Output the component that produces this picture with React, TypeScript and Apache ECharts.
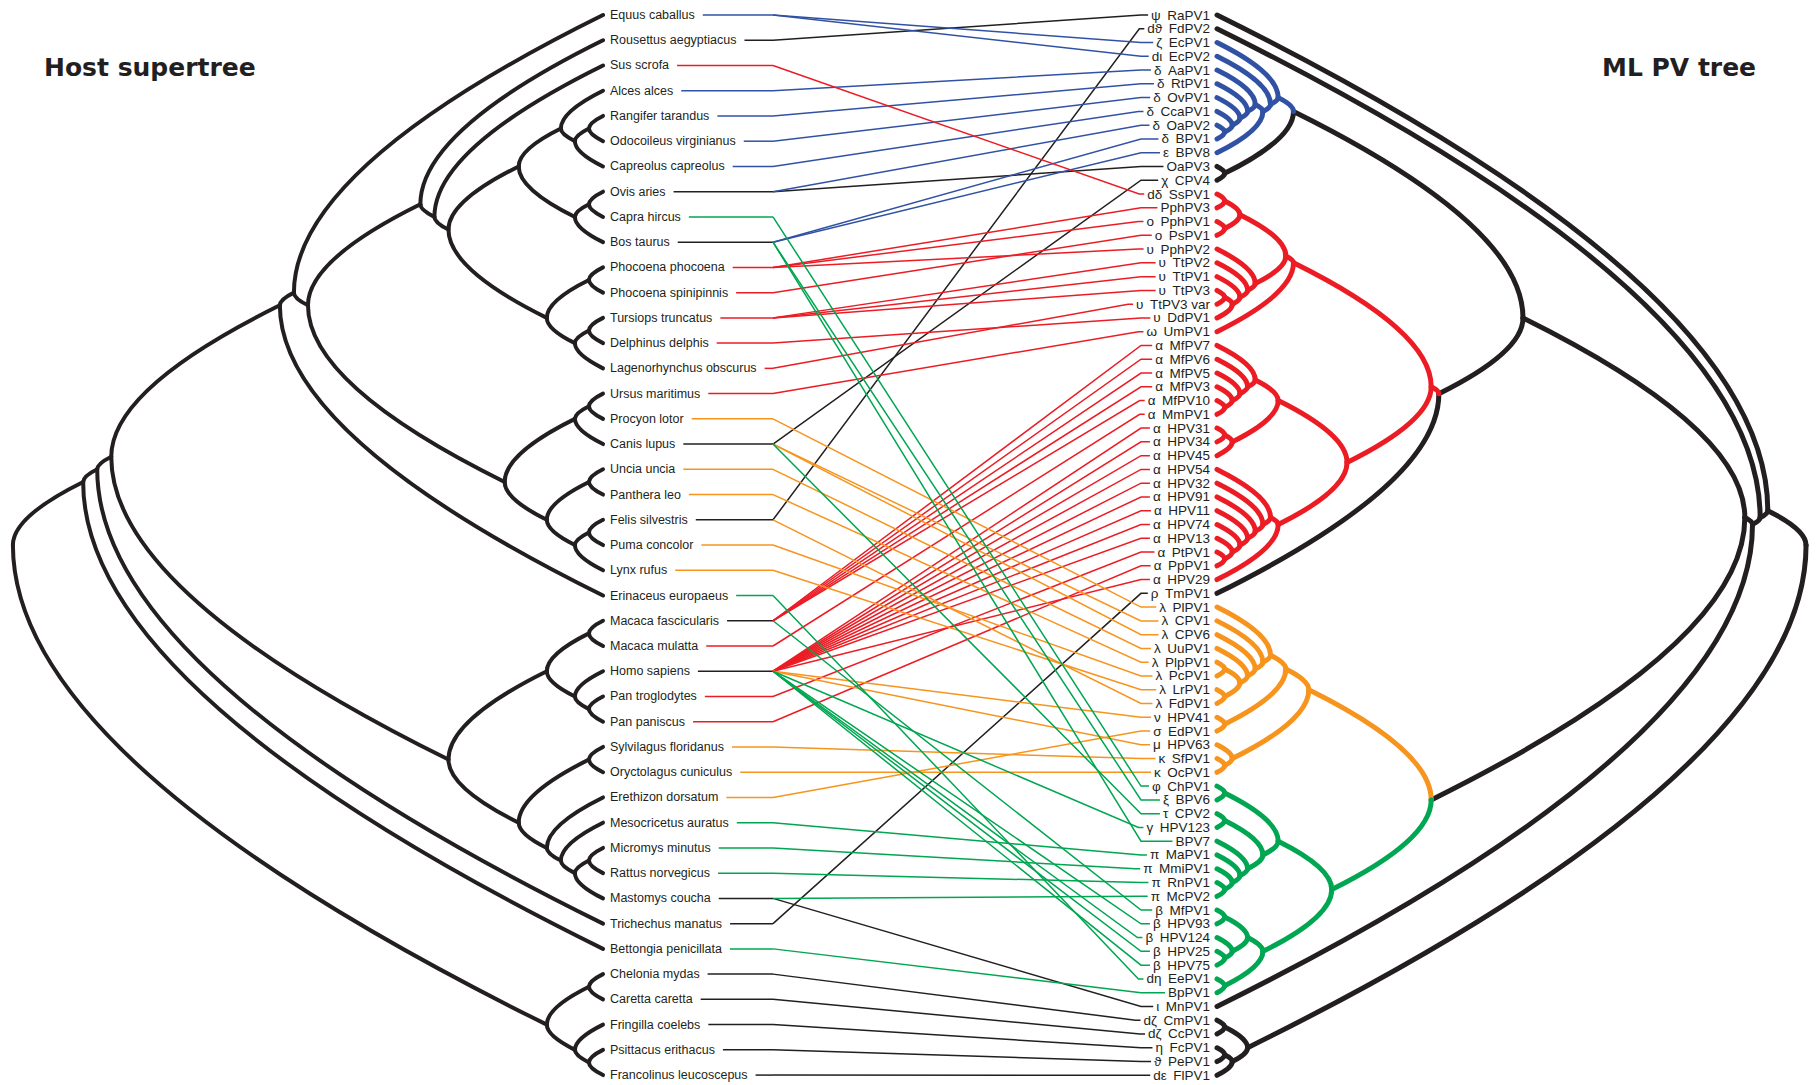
import React, { useEffect, useRef } from "react";
import * as echarts from "echarts";

// ---------------- data ----------------
const hostNames = [
  "Equus caballus", "Rousettus aegyptiacus", "Sus scrofa", "Alces alces", "Rangifer tarandus",
  "Odocoileus virginianus", "Capreolus capreolus", "Ovis aries", "Capra hircus", "Bos taurus",
  "Phocoena phocoena", "Phocoena spinipinnis", "Tursiops truncatus", "Delphinus delphis",
  "Lagenorhynchus obscurus", "Ursus maritimus", "Procyon lotor", "Canis lupus", "Uncia uncia",
  "Panthera leo", "Felis silvestris", "Puma concolor", "Lynx rufus", "Erinaceus europaeus",
  "Macaca fascicularis", "Macaca mulatta", "Homo sapiens", "Pan troglodytes", "Pan paniscus",
  "Sylvilagus floridanus", "Oryctolagus cuniculus", "Erethizon dorsatum", "Mesocricetus auratus",
  "Micromys minutus", "Rattus norvegicus", "Mastomys coucha", "Trichechus manatus",
  "Bettongia penicillata", "Chelonia mydas", "Caretta caretta", "Fringilla coelebs",
  "Psittacus erithacus", "Francolinus leucoscepus",
];

const pvNames = [
  "RaPV1", "FdPV2", "EcPV1", "EcPV2", "AaPV1", "RtPV1", "OvPV1", "CcaPV1", "OaPV2", "BPV1",
  "BPV8", "OaPV3", "CPV4", "SsPV1", "PphPV3", "PphPV1", "PsPV1", "PphPV2", "TtPV2", "TtPV1",
  "TtPV3", "TtPV3 var", "DdPV1", "UmPV1", "MfPV7", "MfPV6", "MfPV5", "MfPV3", "MfPV10", "MmPV1",
  "HPV31", "HPV34", "HPV45", "HPV54", "HPV32", "HPV91", "HPV11", "HPV74", "HPV13", "PtPV1",
  "PpPV1", "HPV29", "TmPV1", "PlPV1", "CPV1", "CPV6", "UuPV1", "PlpPV1", "PcPV1", "LrPV1",
  "FdPV1", "HPV41", "EdPV1", "HPV63", "SfPV1", "OcPV1", "ChPV1", "BPV6", "CPV2", "HPV123",
  "BPV7", "MaPV1", "MmiPV1", "RnPV1", "McPV2", "MfPV1", "HPV93", "HPV124", "HPV25", "HPV75",
  "EePV1", "BpPV1", "MnPV1", "CmPV1", "CcPV1", "FcPV1", "PePV1", "FlPV1",
];

const pvGenus = [
  "ψ", "dϑ", "ζ", "dι", "δ", "δ", "δ", "δ", "δ", "δ",
  "ε", "", "χ", "dδ", "", "ο", "ο", "υ", "υ", "υ",
  "υ", "υ", "υ", "ω", "α", "α", "α", "α", "α", "α",
  "α", "α", "α", "α", "α", "α", "α", "α", "α", "α",
  "α", "α", "ρ", "λ", "λ", "λ", "λ", "λ", "λ", "λ",
  "λ", "ν", "σ", "μ", "κ", "κ", "φ", "ξ", "τ", "γ",
  "", "π", "π", "π", "π", "β", "β", "β", "β", "β",
  "dη", "", "ι", "dζ", "dζ", "η", "ϑ", "dε",
];

// clade colour key of each PV: k black, b blue, r red, o orange, g green
const pvClade = [
  "k", "k", "b", "b", "b", "b", "b", "b", "b", "b",
  "b", "k", "k", "r", "r", "r", "r", "r", "r", "r",
  "r", "r", "r", "r", "r", "r", "r", "r", "r", "r",
  "r", "r", "r", "r", "r", "r", "r", "r", "r", "r",
  "r", "r", "k", "o", "o", "o", "o", "o", "o", "o",
  "o", "o", "o", "o", "o", "o", "g", "g", "g", "g",
  "g", "g", "g", "g", "g", "g", "g", "g", "g", "g",
  "g", "g", "k", "k", "k", "k", "k", "k",
];

// host index of each PV
const pvHost = [
  1, 20, 0, 0, 3, 4, 5, 6, 7, 9,
  9, 7, 17, 2, 10, 10, 11, 10, 12, 12,
  12, 14, 13, 15, 24, 24, 24, 24, 24, 25,
  26, 26, 26, 26, 26, 26, 26, 26, 26, 27,
  28, 26, 36, 16, 17, 17, 18, 19, 21, 22,
  20, 26, 31, 26, 29, 30, 8, 9, 17, 26,
  9, 32, 33, 34, 35, 24, 26, 26, 26, 26,
  23, 37, 35, 38, 39, 40, 41, 42,
];

// host supertree topology (leaf indices)
const hRuminants = [[3, [[4, 5], 6]], [[7, 8], 9]];
const hCetaceans = [[10, 11], [[12, 13], 14]];
const hCarnivora = [[[15, 16], 17], [[18, 19], [[20, 21], 22]]];
const hLaurasiatheria = [[0, [[1, [2, [hRuminants, hCetaceans]]], hCarnivora]], 23];
const hPrimates = [[24, 25], [26, [27, 28]]];
const hGlires = [[29, 30], [31, [32, [[33, 34], 35]]]];
const hSauropsids = [[38, 39], [40, [41, 42]]];
const hostTree = [[[[hLaurasiatheria, [hPrimates, hGlires]], 36], 37], hSauropsids];

// ML PV tree topology (leaf indices)
const pvDelta = [2, [3, [[4, [5, [6, [7, [8, 9]]]]], 10]]];
const pvRedUpper = [[[[13, 14], [15, 16]], [17, [18, [19, [[20, 21], 22]]]]], 23];
const pvAlphaA = [[24, [25, [26, [27, [28, 29]]]]], [[30, 31], 32]];
const pvAlphaB = [[33, [34, [35, [36, [37, [38, [39, 40]]]]]]], 41];
const pvOrange = [[[43, [44, [45, [46, [[47, 48], [49, 50]]]]]], [51, 52]], [53, [54, 55]]];
const pvGreen = [[[56, 57], [[58, 59], [60, [61, [62, [63, 64]]]]]], [[[65, 66], [67, [68, 69]]], [70, 71]]];
const pvSauropsid = [[73, 74], [[75, 76], 77]];
const pvTree = [
  [0, [1, [[[[pvDelta, [11, 12]], [[pvRedUpper, [pvAlphaA, pvAlphaB]], 42]], [pvOrange, pvGreen]], 72]]],
  pvSauropsid,
];

// ---------------- layout / style ----------------
const W = 1816;
const H = 1085;
const PALETTE = ["#231f20", "#3152a4", "#ec1c24", "#f7941d", "#00a651"];
const CLADE_INDEX: Record<string, number> = { k: 0, b: 1, r: 2, o: 3, g: 4 };

const HOST_Y0 = 15;
const HOST_DY = 25.24;
const HOST_TIP_X = 603;
const HOST_STEP_X = -14.05;
const HOST_LABEL_X = 610;
const HOST_BEND_X = 773;

const PV_Y0 = 15;
const PV_DY = 13.77;
const PV_TIP_X = 1217;
const PV_STEP_X = 7.65;
const PV_LABEL_X = 1210;
const PV_BEND_X = 1141;
const GREEK_GAP = 6.5;

const HOST_FONT = "12.5px 'Liberation Sans', Arial, sans-serif";
const PV_FONT = "13.5px 'Liberation Sans', Arial, sans-serif";
const TITLE_FONT = "bold 25px 'DejaVu Sans', sans-serif";
const CURVE_K = 0.45;
const TEXT_COLOR = "#231f20";

const hostY = (i: number) => HOST_Y0 + i * HOST_DY;
const pvY = (j: number) => PV_Y0 + j * PV_DY;

function layoutTree(tree: any, leafY: (i: number) => number, tipX: number, stepX: number, colorOf: (i: number) => number) {
  const edges: number[][] = [];
  const walk = (node: any): { x: number; y: number; n: number; sumY: number; col: number } => {
    if (typeof node === "number") {
      const y = leafY(node);
      return { x: tipX, y, n: 1, sumY: y, col: colorOf(node) };
    }
    const kids = node.map(walk);
    const n = kids.reduce((s: number, k: any) => s + k.n, 0);
    const sumY = kids.reduce((s: number, k: any) => s + k.sumY, 0);
    const x = tipX + (n - 1) * stepX;
    const y = sumY / n;
    const col = kids.every((k: any) => k.col === kids[0].col) ? kids[0].col : 0;
    kids.forEach((k: any) => edges.push([x, y, k.x, k.y, k.col]));
    return { x, y, n, sumY, col };
  };
  walk(tree);
  edges.sort((a, b) => (a[4] === 0 ? 0 : 1) - (b[4] === 0 ? 0 : 1));
  return edges;
}

const makeEdgeRenderer = (w: number) => (_params: any, api: any) => {
  const p = api.coord([api.value(0), api.value(1)]);
  const c = api.coord([api.value(2), api.value(3)]);
  return {
    type: "bezierCurve",
    shape: {
      x1: p[0], y1: p[1], x2: c[0], y2: c[1],
      cpx1: p[0], cpy1: p[1] + CURVE_K * (c[1] - p[1]),
    },
    style: { stroke: PALETTE[api.value(4)], lineWidth: w, fill: "none", lineCap: "round", lineJoin: "round" },
  };
};

const makeTextRenderer = (texts: string[], font: string, align: string) => (_p: any, api: any) => {
  const pt = api.coord([api.value(0), api.value(1)]);
  return {
    type: "text", x: pt[0], y: pt[1],
    style: {
      text: texts[api.value(2)], font, fill: TEXT_COLOR,
      align, textAlign: align, verticalAlign: "middle", textVerticalAlign: "middle",
    },
  };
};

function buildOption() {
  const ctx = document.createElement("canvas").getContext("2d")!;
  const tw = (t: string, font: string) => {
    ctx.font = font;
    return ctx.measureText(t).width;
  };

  const hostEdges = layoutTree(hostTree, hostY, HOST_TIP_X, HOST_STEP_X, () => 0);
  const pvEdges = layoutTree(pvTree, pvY, PV_TIP_X, PV_STEP_X, (j) => CLADE_INDEX[pvClade[j]]);

  // PV label geometry: name right-aligned, genus symbol right-aligned before it
  const nameLeft = pvNames.map((n) => PV_LABEL_X - tw(n, PV_FONT));
  const greekRight = nameLeft.map((l) => l - GREEK_GAP);
  const labelLeft = pvGenus.map((g, j) => (g ? greekRight[j] - tw(g, PV_FONT) : nameLeft[j]));

  const links: any[] = [];
  hostNames.forEach((h, i) => {
    const cols = pvHost.map((hh, j) => (hh === i ? CLADE_INDEX[pvClade[j]] : -1)).filter((c) => c >= 0);
    const col = cols.length && cols.every((c) => c === cols[0]) ? cols[0] : 0;
    const x0 = HOST_LABEL_X + tw(h, HOST_FONT) + 8;
    links.push({ coords: [[x0, hostY(i)], [HOST_BEND_X, hostY(i)]], lineStyle: { color: PALETTE[col] } });
  });
  const order = pvHost.map((_, j) => j).sort((a, b) => (pvClade[a] === "k" ? 0 : 1) - (pvClade[b] === "k" ? 0 : 1));
  order.forEach((j) => {
    const yh = hostY(pvHost[j]);
    const yv = pvY(j);
    const left = labelLeft[j];
    const bend = Math.min(PV_BEND_X, left - 8);
    links.push({
      coords: [[HOST_BEND_X, yh], [bend, yv], [left - 3, yv]],
      lineStyle: { color: PALETTE[CLADE_INDEX[pvClade[j]]] },
    });
  });

  const hostLabelData = hostNames.map((_, i) => [HOST_LABEL_X, hostY(i), i]);
  const pvLabelData = pvNames.map((_, j) => [PV_LABEL_X, pvY(j), j]);
  const pvGreekData = pvGenus.map((g, j) => (g ? [greekRight[j], pvY(j), j] : null)).filter(Boolean);

  return {
    animation: false,
    backgroundColor: "#ffffff",
    grid: { left: 0, right: 0, top: 0, bottom: 0 },
    xAxis: { type: "value", min: 0, max: W, show: false },
    yAxis: { type: "value", min: 0, max: H, inverse: true, show: false },
    graphic: [
      {
        type: "text", x: 44, y: 67,
        style: { text: "Host supertree", font: TITLE_FONT, fill: TEXT_COLOR, verticalAlign: "middle", textVerticalAlign: "middle" },
      },
      {
        type: "text", x: 1602, y: 67,
        style: { text: "ML PV tree", font: TITLE_FONT, fill: TEXT_COLOR, verticalAlign: "middle", textVerticalAlign: "middle" },
      },
    ],
    series: [
      {
        type: "lines", coordinateSystem: "cartesian2d", polyline: true, silent: true, z: 1,
        lineStyle: { width: 1.5, opacity: 1 },
        data: links,
      },
      { type: "custom", renderItem: makeEdgeRenderer(4), data: hostEdges, silent: true, z: 2 },
      { type: "custom", renderItem: makeEdgeRenderer(5), data: pvEdges, silent: true, z: 2 },
      { type: "custom", silent: true, z: 3, data: hostLabelData, renderItem: makeTextRenderer(hostNames, HOST_FONT, "left") },
      { type: "custom", silent: true, z: 3, data: pvLabelData, renderItem: makeTextRenderer(pvNames, PV_FONT, "right") },
      { type: "custom", silent: true, z: 3, data: pvGreekData, renderItem: makeTextRenderer(pvGenus, PV_FONT, "right") },
    ],
  };
}

export default function App() {
  const ref = useRef<HTMLDivElement>(null);
  useEffect(() => {
    const chart = echarts.init(ref.current!, null, { renderer: "svg" });
    chart.setOption(buildOption() as any);
    return () => chart.dispose();
  }, []);
  return <div ref={ref} style={{ position: "absolute", left: 0, top: 0, width: W, height: H, background: "#fff" }} />;
}
